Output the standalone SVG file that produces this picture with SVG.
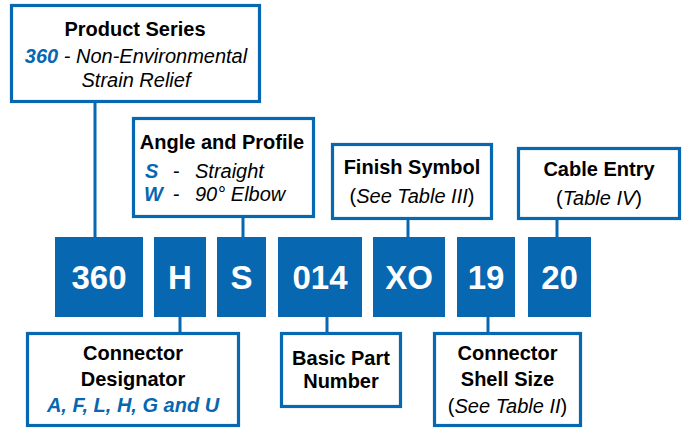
<svg xmlns="http://www.w3.org/2000/svg" width="684" height="428" viewBox="0 0 684 428">
<style>
.box{fill:#fff;stroke:#0767B1;stroke-width:3.2}
.code{fill:#0767B1}
.conn{stroke:#0767B1;stroke-width:3;fill:none}
text{font-family:"Liberation Sans",Arial,sans-serif;font-size:20px;fill:#000;text-anchor:middle}
.b{font-weight:bold}
.i{font-style:italic}
.blue{fill:#0767B1}
.ct{fill:#fff;font-weight:bold;font-size:33px}
</style>
<rect width="684" height="428" fill="#fff"/>
<g id="connectors">
<line class="conn" x1="95" y1="102" x2="95" y2="238"/>
<line class="conn" x1="243" y1="217" x2="243" y2="238"/>
<line class="conn" x1="408" y1="219" x2="408" y2="238"/>
<line class="conn" x1="557" y1="219" x2="557" y2="238"/>
<line class="conn" x1="180" y1="316" x2="180" y2="333"/>
<line class="conn" x1="327" y1="316" x2="327" y2="333"/>
<line class="conn" x1="488" y1="316" x2="488" y2="333"/>
</g>
<g id="product-series">
<rect class="box" x="11.5" y="5.5" width="248" height="96"/>
<text x="135" y="36" class="b">Product Series</text>
<text x="136" y="63" class="i"><tspan class="b blue">360</tspan> - Non-Environmental</text>
<text x="136" y="87" class="i">Strain Relief</text>
</g>
<g id="angle-profile">
<rect class="box" x="133.5" y="118.5" width="180" height="98"/>
<text x="222" y="149" class="b">Angle and Profile</text>
<text x="145" y="178" class="b i blue" style="text-anchor:start">S</text>
<text x="173" y="178" style="text-anchor:start">-</text>
<text x="195" y="178" class="i" style="text-anchor:start">Straight</text>
<text x="144" y="201" class="b i blue" style="text-anchor:start">W</text>
<text x="173" y="201" style="text-anchor:start">-</text>
<text x="195" y="201" class="i" style="text-anchor:start">90° Elbow</text>
</g>
<g id="finish-symbol">
<rect class="box" x="332.5" y="144.5" width="159" height="74"/>
<text x="412" y="174" class="b">Finish Symbol</text>
<text x="412" y="203">(<tspan class="i">See Table III</tspan>)</text>
</g>
<g id="cable-entry">
<rect class="box" x="518.5" y="148.5" width="161" height="70"/>
<text x="599" y="176" class="b">Cable Entry</text>
<text x="599" y="205">(<tspan class="i">Table IV</tspan>)</text>
</g>
<g id="code-360"><rect class="code" x="55" y="237" width="88" height="80"/><text class="ct" x="99" y="289">360</text></g>
<g id="code-H"><rect class="code" x="154" y="237" width="52" height="80"/><text class="ct" x="180" y="289">H</text></g>
<g id="code-S"><rect class="code" x="217" y="237" width="49" height="80"/><text class="ct" x="241.5" y="289">S</text></g>
<g id="code-014"><rect class="code" x="278" y="237" width="84" height="80"/><text class="ct" x="320" y="289">014</text></g>
<g id="code-XO"><rect class="code" x="373" y="237" width="72" height="80"/><text class="ct" x="409" y="289">XO</text></g>
<g id="code-19"><rect class="code" x="457" y="237" width="58" height="80"/><text class="ct" x="486" y="289">19</text></g>
<g id="code-20"><rect class="code" x="528" y="237" width="63" height="80"/><text class="ct" x="559.5" y="289">20</text></g>
<g id="connector-designator">
<rect class="box" x="27.5" y="333.5" width="211" height="92"/>
<text x="133" y="360" class="b">Connector</text>
<text x="133" y="386" class="b">Designator</text>
<text x="133" y="412" class="b i blue">A, F, L, H, G and U</text>
</g>
<g id="basic-part-number">
<rect class="box" x="281.5" y="333.5" width="119" height="73"/>
<text x="341" y="365" class="b">Basic Part</text>
<text x="341" y="388" class="b">Number</text>
</g>
<g id="shell-size">
<rect class="box" x="434.5" y="333.5" width="146" height="92"/>
<text x="507.5" y="360" class="b">Connector</text>
<text x="507.5" y="386" class="b">Shell Size</text>
<text x="507.5" y="413">(<tspan class="i">See Table II</tspan>)</text>
</g>
</svg>
